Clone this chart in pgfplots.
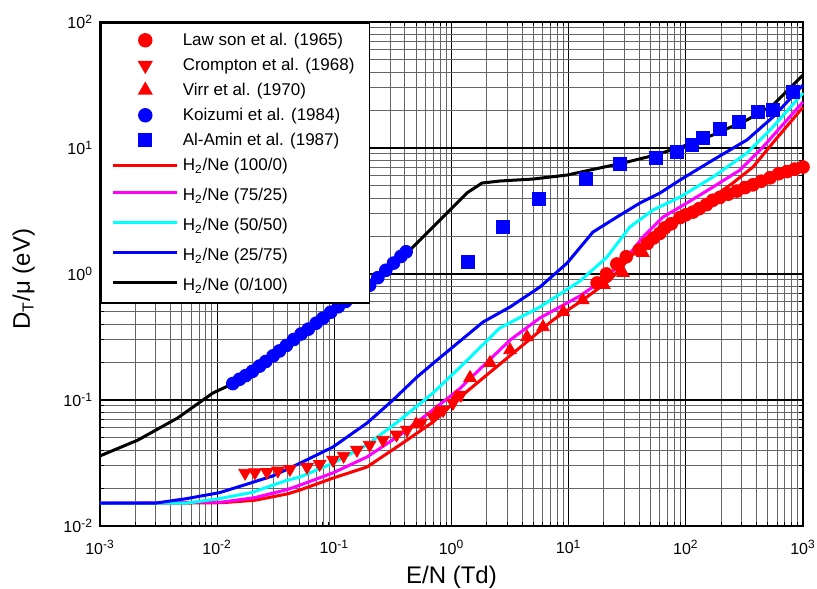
\documentclass[border=0pt]{standalone}
\usepackage{fontspec}
\setmainfont{Liberation Sans}
\usepackage{pgfplots}
\pgfplotsset{compat=1.18}
\definecolor{mymag}{RGB}{255,0,255}
\definecolor{mycyan}{RGB}{0,255,255}
\definecolor{myblue}{RGB}{0,0,255}
\definecolor{myred}{RGB}{255,0,0}
\newcommand{\strutM}{\rule{0pt}{9pt}}
\newcommand{\strutL}{\rule{0pt}{11.5pt}}
\begin{document}
\begin{tikzpicture}
\begin{axis}[
  xmode=log, ymode=log,
  scale only axis, width=351.5pt, height=252pt,
  xmin=1e-3, xmax=1e3, ymin=1e-2, ymax=1e2,
  xtick={0.001,0.01,0.1,1,10,100,1000},
  xticklabels={10\textsuperscript{-3},10\textsuperscript{-2},10\textsuperscript{-1},10\textsuperscript{0},10\textsuperscript{1},10\textsuperscript{2},10\textsuperscript{3}},
  ytick={0.01,0.1,1,10,100},
  yticklabels={10\textsuperscript{-2},10\textsuperscript{-1},10\textsuperscript{0},10\textsuperscript{1},10\textsuperscript{2}},
  minor xtick={0.002,0.003,0.004,0.005,0.006,0.007,0.008,0.009,
    0.02,0.03,0.04,0.05,0.06,0.07,0.08,0.09,
    0.2,0.3,0.4,0.5,0.6,0.7,0.8,0.9,
    2,3,4,5,6,7,8,9,20,30,40,50,60,70,80,90,
    200,300,400,500,600,700,800,900},
  minor ytick={0.02,0.03,0.04,0.05,0.06,0.07,0.08,0.09,
    0.2,0.3,0.4,0.5,0.6,0.7,0.8,0.9,
    2,3,4,5,6,7,8,9,20,30,40,50,60,70,80,90},
  grid=both,
  major grid style={black, line width=0.6pt},
  minor grid style={black!60, line width=0.45pt},
  axis line style={line width=1pt},
  major tick length=3pt, minor tick length=2pt,
  tick style={black, line width=0.5pt},
  tick label style={font=\fontsize{8}{9.5}\selectfont},
  xticklabel style={yshift=-3.5pt},
  xlabel={E/N (Td)},
  ylabel={D\textsubscript{T}/μ (eV)},
  every axis x label/.style={at={(axis description cs:0.5,-0.114)}, anchor=base, font=\fontsize{12}{14}\selectfont},
  every axis y label/.style={at={(axis description cs:-0.0996,0.49)}, anchor=base, rotate=90, font=\fontsize{12}{14}\selectfont},
  clip=false,
  legend image code/.code={\draw[mark repeat=2,mark phase=2,#1] plot coordinates {(0pt,0pt) (16pt,0pt) (32pt,0pt)};},
  legend style={at={(0,1)}, anchor=north west, draw=black, line width=0.8pt, fill=white,
    font=\fontsize{8.5}{10}\selectfont, row sep=0pt, inner xsep=5.5pt, inner ysep=2.5pt,
    nodes={inner xsep=2pt, inner ysep=0pt, text depth=3.5pt}},
  legend cell align=left,
]
% Lawson et al. (1965)
\addplot[only marks, mark=*, color=myred, mark size=3.2pt] coordinates {
(17.5,0.849)(21,1.0)(25.8,1.2)(31,1.37)(40,1.55)(47,1.75)(53,1.93)(60,2.1)
(66,2.32)(75,2.5)(89,2.8)(100,2.95)(115,3.1)(130,3.3)(150,3.55)(170,3.85)
(195,4.05)(230,4.3)(273,4.55)(320,4.85)(374,5.1)(440,5.45)(523,5.8)(620,6.25)
(730,6.5)(850,6.8)(1000,7.06)};
\addlegendentry{\strutM Law son et al. (1965)}
% Crompton et al. (1968)
\addplot[only marks, mark=triangle*, mark options={rotate=180}, color=myred, mark size=3.6pt] coordinates {
(0.0173,0.0264)(0.021,0.0266)(0.0266,0.0268)(0.033,0.0275)(0.0418,0.0283)
(0.0585,0.0294)(0.075,0.031)(0.0975,0.0334)(0.12,0.036)(0.156,0.0401)
(0.2,0.044)(0.26,0.0482)(0.34,0.053)(0.417,0.0578)(0.55,0.066)(0.695,0.0733)
(0.85,0.083)(1.03,0.0946)(1.2,0.11)};
\addlegendentry{\strutM Crompton et al. (1968)}
% Virr et al. (1970)
\addplot[only marks, mark=triangle*, color=myred, mark size=3.6pt] coordinates {
(0.5,0.064)(0.75,0.08)(1.1,0.105)(1.44,0.15)(2.13,0.197)(3.16,0.249)
(4.41,0.316)(6.04,0.379)(9.0,0.5)(13.2,0.62)(20,0.82)(29.1,1.02)(43.1,1.47)};
\addlegendentry{\strutM Virr et al. (1970)}
% Koizumi et al. (1984)
\addplot[only marks, mark=*, color=myblue, mark size=3.2pt] coordinates {
(0.0136,0.135)(0.0155,0.146)(0.0175,0.156)(0.02,0.169)(0.023,0.186)(0.026,0.202)
(0.03,0.224)(0.034,0.245)(0.039,0.271)(0.045,0.302)(0.052,0.334)(0.06,0.365)
(0.07,0.407)(0.08,0.446)(0.093,0.497)(0.108,0.55)(0.125,0.606)(0.145,0.664)
(0.17,0.73)(0.2,0.815)(0.235,0.935)(0.275,1.07)(0.32,1.22)(0.37,1.38)(0.41,1.5)};
\addlegendentry{\strutM Koizumi et al. (1984)}
% Al-Amin et al. (1987)
\addplot[only marks, mark=square*, color=myblue, mark size=3.2pt] coordinates {
(1.38,1.245)(2.75,2.36)(5.58,3.94)(14.1,5.68)(27.4,7.46)(55.6,8.3)(84,9.3)
(113,10.6)(140,12.0)(195,14.2)(284,16.1)(413,19.3)(554,20.0)(821,27.8)};
\addlegendentry{\strutM Al-Amin et al. (1987)}
% H2/Ne (100/0)
\addplot[myred, line width=1.5pt] coordinates {
(0.001,0.0152)(0.005,0.0152)(0.011,0.0153)(0.021,0.016)(0.04,0.018)(0.0509,0.0193)
(0.0975,0.024)(0.19,0.0294)(0.363,0.044)(0.695,0.0668)(1.19,0.1057)(2.0,0.158)
(3.5,0.243)(7.35,0.431)(13.2,0.622)(22.5,0.895)(38.3,1.55)(60.2,2.11)(100,2.91)
(170.6,4.08)(252,5.27)(374,7.06)(554,11.0)(1000,21.1)};
\addlegendentry{\strutM H\textsubscript{2}/Ne (100/0)}
% H2/Ne (75/25)
\addplot[mymag, line width=1.5pt] coordinates {
(0.001,0.0152)(0.011,0.0155)(0.021,0.0168)(0.04,0.0195)(0.0509,0.0211)(0.0975,0.0264)
(0.19,0.0353)(0.363,0.0527)(0.695,0.0834)(1.19,0.124)(1.356,0.14)(3.16,0.299)
(5.69,0.448)(12.5,0.67)(21.2,0.946)(31.5,1.36)(43.1,1.97)(63.8,2.83)(89.2,3.4)
(102,3.66)(170.6,4.9)(290,6.68)(456,10.2)(1000,23.2)};
\addlegendentry{\strutL H\textsubscript{2}/Ne (75/25)}
% H2/Ne (50/50)
\addplot[mycyan, line width=1.5pt] coordinates {
(0.001,0.0152)(0.0055,0.0152)(0.0105,0.0165)(0.02,0.0185)(0.038,0.0228)(0.0509,0.0245)
(0.0975,0.0315)(0.19,0.044)(0.363,0.0693)(0.695,0.1137)(1.19,0.183)(2.59,0.373)
(5.69,0.547)(12.5,0.88)(21.2,1.36)(33.3,2.36)(52.5,3.22)(89.2,4.08)(170.6,5.89)
(333,9.12)(554,14.7)(1000,27.3)};
\addlegendentry{\strutL H\textsubscript{2}/Ne (50/50)}
% H2/Ne (25/75)
\addplot[myblue, line width=1.5pt] coordinates {
(0.001,0.0152)(0.003,0.0152)(0.0055,0.0165)(0.0105,0.0184)(0.018,0.0215)(0.03,0.025)
(0.0509,0.0315)(0.0975,0.0424)(0.19,0.0656)(0.317,0.1)(0.507,0.152)(0.751,0.207)
(1.86,0.416)(3.16,0.547)(5.69,0.789)(9.69,1.22)(16.1,2.15)(25.8,2.83)(40.6,3.66)
(60.2,4.39)(89.2,5.57)(170.6,8.03)(333,11.6)(554,17.6)(1000,31.6)};
\addlegendentry{\strutL H\textsubscript{2}/Ne (25/75)}
% H2/Ne (0/100)
\addplot[black, line width=1.5pt] coordinates {
(0.001,0.036)(0.0021,0.048)(0.0046,0.072)(0.0092,0.1137)(0.0129,0.1316)(0.0191,0.164)
(0.0324,0.236)(0.0541,0.34)(0.0975,0.518)(0.201,0.819)(0.363,1.36)(0.442,1.55)
(0.695,2.36)(0.97,3.22)(1.356,4.4)(1.82,5.27)(2.59,5.47)(4.96,5.67)(9.7,6.1)
(15.2,6.68)(29.1,7.6)(50,8.6)(89.2,10.1)(170.6,12.7)(333,16.7)(554,21.9)(1000,37.9)};
\addlegendentry{\strutL H\textsubscript{2}/Ne (0/100)}
\end{axis}
\pgfresetboundingbox
\path ([shift={(-50pt,-31.5pt)}]current axis.south west) rectangle ([shift={(7pt,11pt)}]current axis.north east);
\end{tikzpicture}
\end{document}
